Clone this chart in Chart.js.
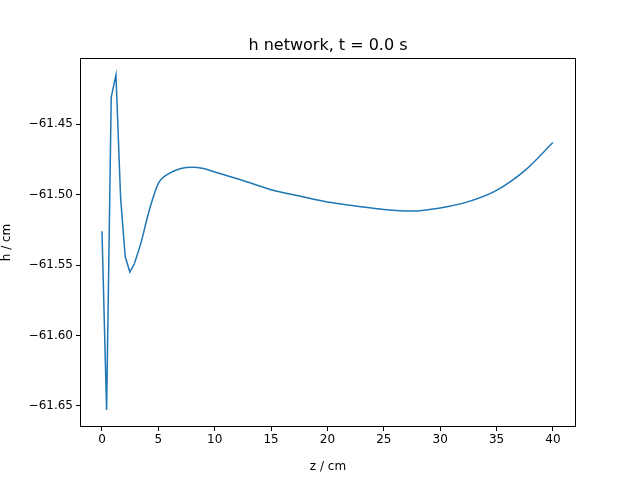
<!DOCTYPE html>
<html>
<head>
<script src="https://cdn.jsdelivr.net/npm/chart.js@4"></script>
<style>body{margin:0;background:#fff}#c{width:640px;height:480px}</style>
</head>
<body>
<div id="c"><canvas id="chart" width="640" height="480"></canvas></div>
<script>
// steep start (straight segments)
const zStart = [0, 0.41, 0.82, 1.24, 1.65, 2.06, 2.47, 2.88];
const hStart = [-61.526, -61.653, -61.431, -61.415, -61.502, -61.544, -61.555, -61.549];
// smooth remainder
const zRest = [2.88, 3.5, 4, 4.5, 5, 6, 7, 8, 9, 10, 12.5, 15, 17.5, 20, 22.5, 25, 27.5, 30, 32.5, 35, 37.5, 40];
const hRest = [-61.549, -61.533, -61.517, -61.503, -61.492, -61.4848, -61.4814, -61.4805, -61.4815, -61.484, -61.490, -61.4965, -61.501, -61.5053, -61.508, -61.5105, -61.5117, -61.5095, -61.505, -61.497, -61.483, -61.463];
const xTicks = [0, 5, 10, 15, 20, 25, 30, 35, 40];
const yTicks = [-61.65, -61.60, -61.55, -61.50, -61.45];
const titleText = 'h network, t = 0.0 s';

const frame = {
  id: 'frame',
  afterDraw(c) {
    const a = c.chartArea, ctx = c.ctx;
    ctx.save();
    ctx.strokeStyle = '#000';
    ctx.lineWidth = 1;
    const l = Math.round(a.left) + 0.5, t = Math.round(a.top) + 0.5;
    const r = Math.round(a.right) - 0.5, b = Math.round(a.bottom) - 0.5;
    ctx.strokeRect(l, t, r - l, b - t);
    ctx.fillStyle = '#000';
    ctx.font = '16px "DejaVu Sans"';
    ctx.textAlign = 'center';
    ctx.textBaseline = 'alphabetic';
    ctx.fillText(titleText, (a.left + a.right) / 2, a.top - 8);
    ctx.restore();
  }
};

const tickFont = { family: 'DejaVu Sans', size: 12 };
const line = (zs, hs, tension) => ({
  data: zs.map((z, i) => ({ x: z, y: hs[i] })),
  showLine: true,
  borderColor: '#1f77b4',
  borderWidth: 1.5,
  pointRadius: 0,
  tension: tension,
  cubicInterpolationMode: tension ? 'monotone' : 'default'
});
new Chart(document.getElementById('chart'), {
  type: 'scatter',
  data: { datasets: [line(zStart, hStart, 0), line(zRest, hRest, 0.4)] },
  options: {
    responsive: false,
    animation: false,
    layout: { padding: { top: 58, right: 64, left: 0, bottom: 6 } },
    plugins: { legend: { display: false }, tooltip: { enabled: false } },
    scales: {
      x: {
        min: -1.95, max: 42.05,
        afterFit(s) { s.height = 47; },
        afterBuildTicks(s) { s.ticks = xTicks.map(v => ({ value: v })); },
        grid: { display: true, drawOnChartArea: false, tickLength: 4, color: '#000' },
        border: { display: false },
        ticks: { color: '#000', font: tickFont, maxRotation: 0, padding: 2 },
        title: { display: true, text: 'z / cm', color: '#000', font: tickFont, padding: 0 }
      },
      y: {
        min: -61.665, max: -61.403,
        afterFit(s) { s.width = 80; },
        afterBuildTicks(s) { s.ticks = yTicks.map(v => ({ value: v })); },
        grid: { display: true, drawOnChartArea: false, tickLength: 4, color: '#000' },
        border: { display: false },
        ticks: { color: '#000', font: tickFont, padding: 3,
          callback: v => v.toFixed(2).replace('-', '\u2212') },
        title: { display: true, text: 'h / cm', color: '#000', font: tickFont, padding: 0 }
      }
    }
  },
  plugins: [frame]
});
</script>
</body>
</html>
